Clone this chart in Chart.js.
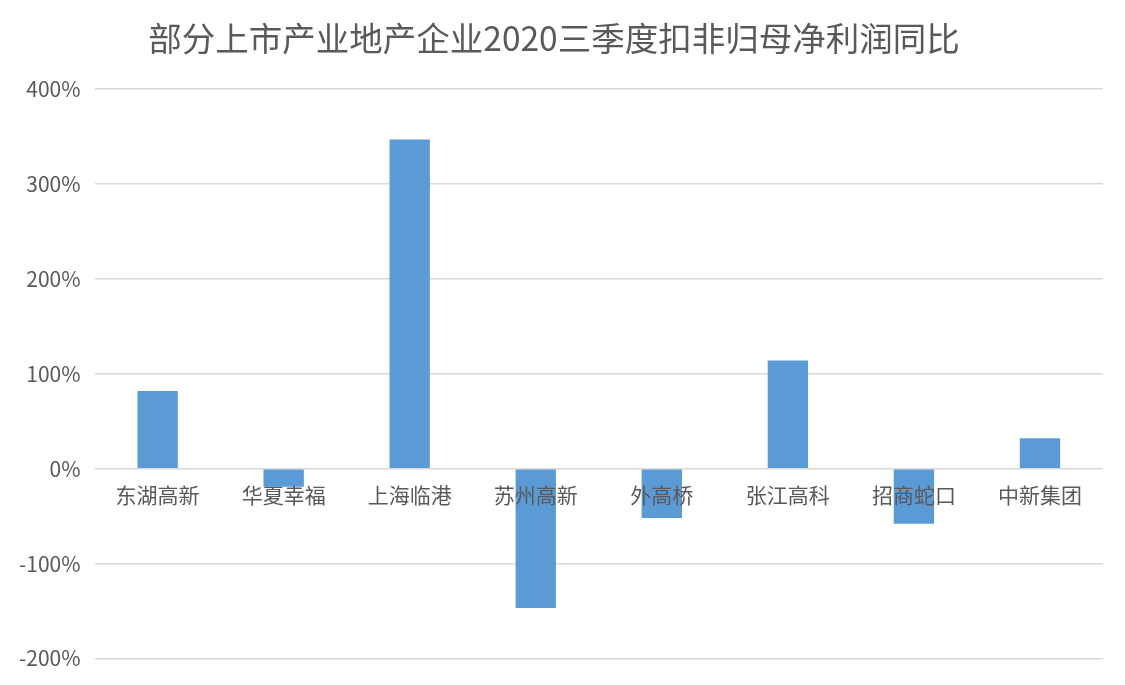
<!DOCTYPE html>
<html lang="zh">
<head>
    <meta charset="UTF-8">
    <title>部分上市产业地产企业2020三季度扣非归母净利润同比</title>
    <script src="https://cdn.jsdelivr.net/npm/chart.js"></script>
    <style>
        html, body { margin: 0; padding: 0; background: #fff; }
        .wrap { width: 1125px; height: 685px; }
    </style>
</head>
<body>
    <div class="wrap"><canvas id="profitChart"></canvas></div>

    <script>
        // 公司及同比数据 (%)
        const companies = ["东湖高新", "华夏幸福", "上海临港", "苏州高新", "外高桥", "张江高科", "招商蛇口", "中新集团"];
        const yoyGrowth = [82, -19, 347, -147, -52, 114, -58, 32];
        const yTicks = [-200, -100, 0, 100, 200, 300, 400];

        const fontFamily = "'Noto Sans CJK SC', 'Noto Sans', sans-serif";
        const textColor = "#595959";

        let ctx = document.getElementById("profitChart").getContext("2d");

        new Chart(ctx, {
            type: "bar",
            data: {
                labels: companies,
                datasets: [{
                    label: "扣非归母净利润同比",
                    data: yoyGrowth,
                    backgroundColor: "#5b9bd5",
                    barPercentage: 0.32,
                    categoryPercentage: 1
                }]
            },
            options: {
                responsive: true,
                maintainAspectRatio: false,
                animation: false,
                layout: {
                    padding: { top: 6, left: 5, right: 22, bottom: 20 }
                },
                plugins: {
                    legend: { display: false },
                    tooltip: { enabled: false },
                    title: {
                        display: true,
                        text: "部分上市产业地产企业2020三季度扣非归母净利润同比",
                        color: textColor,
                        font: { family: fontFamily, size: 33.5, weight: "normal" },
                        padding: { top: 12, bottom: 31 }
                    }
                },
                scales: {
                    x: {
                        position: { y: 0 },
                        grid: { display: false },
                        border: { display: false },
                        ticks: {
                            z: 1,   // 标签画在柱子上面
                            color: textColor,
                            font: { family: fontFamily, size: 21 },
                            padding: 6,
                            maxRotation: 0
                        }
                    },
                    y: {
                        min: -200,
                        max: 400,
                        afterBuildTicks: axis => {
                            axis.ticks = yTicks.map(v => ({ value: v }));
                        },
                        grid: {
                            color: "#d9d9d9",
                            lineWidth: 1.5,
                            drawTicks: false
                        },
                        border: { display: false },
                        ticks: {
                            color: textColor,
                            font: { family: fontFamily, size: 21 },
                            padding: 14,
                            callback: v => v + "%"
                        }
                    }
                }
            }
        });
    </script>
</body>
</html>
